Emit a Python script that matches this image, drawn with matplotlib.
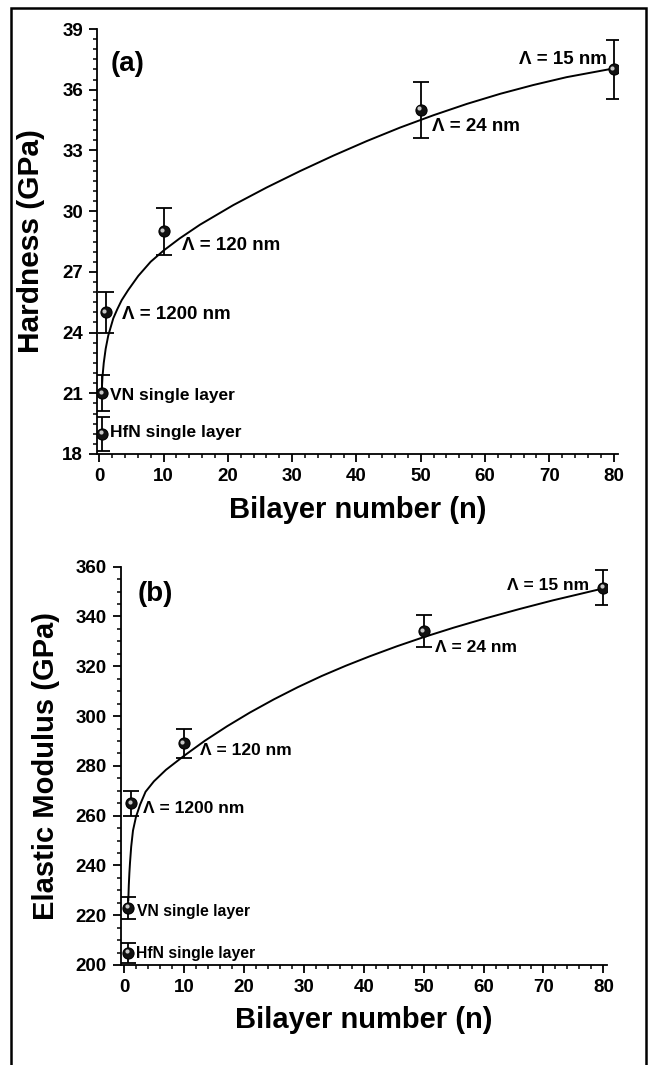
import matplotlib
matplotlib.use('Agg')
import matplotlib.pyplot as plt
from matplotlib.patches import Rectangle
from matplotlib.ticker import MultipleLocator
from matplotlib.transforms import offset_copy

plt.rcParams['font.family'] = ['Liberation Sans', 'DejaVu Sans']
plt.rcParams['font.weight'] = 'bold'

# measured points (x = bilayer number)
labels = ['HfN single layer', 'VN single layer', '\u039b = 1200 nm',
          '\u039b = 120 nm', '\u039b = 24 nm', '\u039b = 15 nm']

n_a = [0.5, 0.5, 1.0, 10, 50, 80]
hard = [19.0, 21.0, 25.0, 29.0, 35.0, 37.0]
hard_err = [0.85, 0.9, 1.0, 1.15, 1.4, 1.45]

n_b = [0.7, 0.7, 1.2, 10, 50, 80]
modulus = [205, 223, 265, 289, 334, 351.5]
modulus_err = [4, 4.4, 5, 5.7, 6.4, 7]

# fitted curves
fit_a_x = [0.37, 0.5, 0.7, 1.0, 1.4, 2.18, 2.8, 3.49, 4.5, 6.07, 8.0, 10, 12.5,
           15.67, 20.86, 26.05, 31.24, 36.4, 41.6, 46.8, 52.0, 57.2, 62.4,
           67.5, 72.7, 80]
fit_a_y = [21.0, 21.8, 22.5, 23.2, 23.85, 24.7, 25.15, 25.6, 26.1, 26.8, 27.5,
           28.05, 28.65, 29.33, 30.3, 31.17, 31.98, 32.74, 33.46, 34.13, 34.74,
           35.3, 35.8, 36.23, 36.62, 37.05]

fit_b_x = [0.72, 0.8, 0.9, 1.0, 1.2, 1.5, 2.0, 2.7, 3.6, 5.0, 7.0, 10, 13.5,
           17.2, 21, 25, 29, 33, 37, 41, 45.5, 50, 55, 60.4, 66, 71.6, 76, 80]
fit_b_y = [226, 232, 237, 241, 247.5, 254, 259.5, 264.5, 269.6, 273.8, 278.4,
           284, 290.1, 295.9, 301.4, 306.7, 311.6, 316.1, 320.2, 324.0, 328.0,
           331.7, 335.5, 339.3, 343.0, 346.5, 349.0, 351.3]

# label anchors (data coords) and alignment
lab_a = [(1.7, 19.04, 'left'), (1.7, 20.88, 'left'), (3.6, 24.87, 'left'),
         (12.8, 28.29, 'left'), (51.7, 34.17, 'left'), (78.9, 37.47, 'right')]
lab_b = [(2.0, 204.5, 'left'), (2.1, 221.4, 'left'), (3.2, 262.9, 'left'),
         (12.7, 286.0, 'left'), (51.9, 327.7, 'left'), (77.7, 352.4, 'right')]

fig = plt.figure(figsize=(6.52, 10.65), dpi=100)
fig.patches.append(Rectangle((10.5 / 652, -0.01), 635.5 / 652, 1.01 - 7.5 / 1065,
                             transform=fig.transFigure, fill=False,
                             edgecolor='black', linewidth=1.8))

ax1 = fig.add_axes([97 / 652, 1 - 454 / 1065, 521 / 652, 425 / 1065])
ax2 = fig.add_axes([120.7 / 652, 1 - 965 / 1065, 486.3 / 652, 398.3 / 1065])


def draw_panel(ax, x, y, err, fx, fy, labs, fs_single, fs_lam):
    ax.plot(fx, fy, color='black', lw=1.4, zorder=2)
    ax.errorbar(x, y, yerr=err, fmt='none', ecolor='black', elinewidth=1.3,
                capsize=5.5, capthick=1.3, zorder=3)
    ax.plot(x, y, 'o', ms=8, mfc='#111111', mec='black', mew=0.8, zorder=4)
    hl = offset_copy(ax.transData, fig=fig, x=-1.2, y=1.2, units='points')
    ax.plot(x, y, 'o', ms=3, mfc='#c8c8c8', mec='none', transform=hl, zorder=5)
    for i, (txt, (tx, ty, ha)) in enumerate(zip(labels, labs)):
        fs = fs_single if i < 2 else fs_lam
        ax.text(tx, ty, txt, ha=ha, va='center', fontsize=fs,
                fontweight='bold')
    for s in ['top', 'right']:
        ax.spines[s].set_visible(False)
    for s in ['left', 'bottom']:
        ax.spines[s].set_linewidth(1.3)
    ax.tick_params(which='major', direction='out', length=6, width=1.3,
                   labelsize=13.5, pad=4)
    ax.tick_params(which='minor', direction='out', length=3.2, width=1.1)
    ax.xaxis.set_major_locator(MultipleLocator(10))
    ax.xaxis.set_minor_locator(MultipleLocator(2))
    ax.set_xlabel('Bilayer number (n)', fontsize=21, fontweight='bold')


draw_panel(ax1, n_a, hard, hard_err, fit_a_x, fit_a_y, lab_a, 12.5, 13.5)
ax1.set_xlim(-0.35, 80.7)
ax1.set_ylim(18, 39)
ax1.yaxis.set_major_locator(MultipleLocator(3))
ax1.yaxis.set_minor_locator(MultipleLocator(0.5))
ax1.set_ylabel('Hardness (GPa)', fontsize=21.5, fontweight='bold')
ax1.yaxis.set_label_coords(-0.10, 0.5)
ax1.xaxis.set_label_coords(0.5, -0.10)
ax1.text(1.7, 37.27, '(a)', ha='left', va='center', fontsize=20,
         fontweight='bold')

draw_panel(ax2, n_b, modulus, modulus_err, fit_b_x, fit_b_y, lab_b, 11.3, 12.5)
ax2.set_xlim(-0.55, 80.6)
ax2.set_ylim(200, 360)
ax2.yaxis.set_major_locator(MultipleLocator(20))
ax2.yaxis.set_minor_locator(MultipleLocator(5))
ax2.set_ylabel('Elastic Modulus (GPa)', fontsize=21, fontweight='bold')
ax2.yaxis.set_label_coords(-0.125, 0.5)
ax2.xaxis.set_label_coords(0.5, -0.103)
ax2.text(2.3, 349, '(b)', ha='left', va='center', fontsize=20,
         fontweight='bold')

for ax in (ax1, ax2):
    for t in ax.get_xticklabels() + ax.get_yticklabels():
        t.set_fontweight('bold')

fig.savefig('out.png', dpi=100)
